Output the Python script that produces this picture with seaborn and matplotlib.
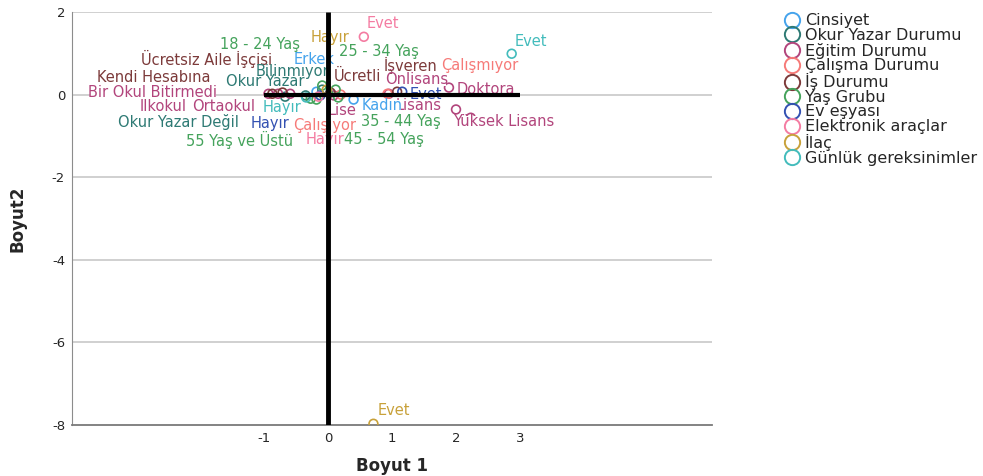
from matplotlib import pyplot as plt
from matplotlib.lines import Line2D
import numpy as np
import pandas as pd
import seaborn as sns

# Variable groups (legend order)
groups = ["Cinsiyet", "Okur Yazar Durumu", "Eğitim Durumu", "Çalışma Durumu", "İş Durumu",
          "Yaş Grubu", "Ev eşyası", "Elektronik araçlar", "İlaç", "Günlük gereksinimler"]

# Category points
point_group = ["Cinsiyet", "Cinsiyet",
               "Okur Yazar Durumu", "Okur Yazar Durumu", "Okur Yazar Durumu",
               "Eğitim Durumu", "Eğitim Durumu", "Eğitim Durumu", "Eğitim Durumu",
               "Eğitim Durumu", "Eğitim Durumu", "Eğitim Durumu", "Eğitim Durumu",
               "Çalışma Durumu", "Çalışma Durumu",
               "İş Durumu", "İş Durumu", "İş Durumu", "İş Durumu",
               "Yaş Grubu", "Yaş Grubu", "Yaş Grubu", "Yaş Grubu", "Yaş Grubu",
               "Ev eşyası", "Ev eşyası",
               "Elektronik araçlar", "Elektronik araçlar",
               "İlaç", "İlaç",
               "Günlük gereksinimler", "Günlük gereksinimler"]
point_label = ["Erkek", "Kadın",
               "Okur Yazar", "Okur Yazar Değil", "Bilinmiyor",
               "Bir Okul Bitirmedi", "İlkokul", "Ortaokul", "Lise",
               "Önlisans", "Lisans", "Yüksek Lisans", "Doktora",
               "Çalışmıyor", "Çalışıyor",
               "Ücretsiz Aile İşçisi", "Kendi Hesabına", "Ücretli", "İşveren",
               "18 - 24 Yaş", "25 - 34 Yaş", "35 - 44 Yaş", "45 - 54 Yaş", "55 Yaş ve Üstü",
               "Hayır", "Evet",
               "Evet", "Hayır",
               "Hayır", "Evet",
               "Evet", "Hayır"]
dim1 = [-0.18, 0.40,
        -0.35, -0.67, -0.09,
        -0.93, -0.78, -0.59, 0.09, 0.95, 2.00, 2.23, 1.89,
        0.93, 0.20,
        -0.87, -0.71, 0.04, 1.08,
        -0.09, 0.12, 0.16, -0.18, -0.27,
        -0.12, 1.16,
        0.56, -0.15,
        -0.02, 0.71,
        2.87, -0.34]
dim2 = [0.07, -0.12,
        -0.02, -0.05, 0.12,
        0.02, 0.02, 0.02, -0.02, 0.02, -0.36, -0.56, 0.17,
        0.02, 0.00,
        0.02, 0.05, 0.05, 0.07,
        0.22, 0.12, -0.07, -0.12, -0.10,
        -0.02, 0.07,
        1.40, -0.05,
        0.12, -7.97,
        0.99, -0.07]

# label placement (offset in pixels from the point)
label_offset = [(-23, 32), (8, -6),
                (-80, 14), (-167, -25), (-67, 18),
                (-180, 1), (-138, -13), (-98, -13), (-6, -15),
                (-4, 14), (-60, 4), (-18, -4), (8, -2),
                (54, 28), (-48, -31),
                (-131, 35), (-186, 15), (3, 16), (-13, 26),
                (-102, 41), (3, 38), (23, -24), (28, -40), (-125, -41),
                (-70, -28), (7, -3),
                (3, 13), (-13, -43),
                (-16, 52), (4, 13),
                (3, 12), (-44, -10)]

colors = ["#45a3ec", "#2e7a74", "#b2457c", "#f67a78", "#7c3a3a",
          "#45a35c", "#3351b2", "#f47ca2", "#c8a13a", "#43bcbc"]
palette = dict(zip(groups, colors))

df = pd.DataFrame({"group": point_group, "label": point_label,
                   "Boyut1": dim1, "Boyut2": dim2})

sns.set_style("white")
plt.rcParams["font.family"] = ["DejaVu Sans"]

fig = plt.figure(figsize=(9.83, 4.76), dpi=100)
ax = fig.add_axes([72 / 983, 51 / 476, 640 / 983, 413 / 476])

sns.scatterplot(data=df, x="Boyut1", y="Boyut2", hue="group", hue_order=groups,
                palette=palette, marker="o", s=40, linewidth=1.2, legend=False,
                ax=ax, zorder=3)
pts = ax.collections[0]
pts.set_edgecolors(pts.get_facecolors())
pts.set_facecolors("none")

# labels drawn in reverse order, each on a tight white box
z = 4
for i in reversed(range(len(df))):
    ax.annotate(point_label[i], (dim1[i], dim2[i]), xytext=label_offset[i],
                textcoords="offset pixels", ha="left", va="center",
                fontsize=10.5, color=palette[point_group[i]], zorder=z,
                bbox=dict(facecolor="white", edgecolor="none", pad=-1.2))
    z += 0.01

# reference lines
ax.plot([0, 0], [-8, 2], color="black", lw=3.5, zorder=10, solid_capstyle="butt")
ax.plot([-1, 3], [0, 0], color="black", lw=3, zorder=10, solid_capstyle="butt")

ax.set_xlim(-4, 6)
ax.set_ylim(-8, 2)
ax.set_xticks([-1, 0, 1, 2, 3])
ax.set_yticks([-8, -6, -4, -2, 0, 2])
ax.set_yticklabels(["-8", "-6", "-4", "-2", "0", "2"])
ax.set_xticklabels(["-1", "0", "1", "2", "3"])
ax.tick_params(length=0, labelsize=9.5, pad=5)
for v in [-6, -4, -2, 0, 2]:
    ax.axhline(v, color="#c8c8c8", lw=1.2, zorder=0)
sns.despine(ax=ax, top=True, right=True)
ax.spines["left"].set_color("#8c8c8c")
ax.spines["bottom"].set_color("#7a7a7a")
ax.spines["bottom"].set_linewidth(1.3)

ax.set_xlabel("Boyut 1", fontsize=12, fontweight="bold", labelpad=9)
ax.set_ylabel("Boyut2", fontsize=12, fontweight="bold", labelpad=18)

handles = [Line2D([], [], marker="o", ls="none", markersize=11, markerfacecolor="none",
                  markeredgecolor=c, markeredgewidth=1.4) for c in colors]
fig.legend(handles, groups, loc="upper left", bbox_to_anchor=(776 / 983, 1 - 7 / 476),
           frameon=False, fontsize=11.5, handletextpad=0.2, labelspacing=-0.02,
           handlelength=1.2, borderaxespad=0)

plt.savefig("out.png", dpi=100)
